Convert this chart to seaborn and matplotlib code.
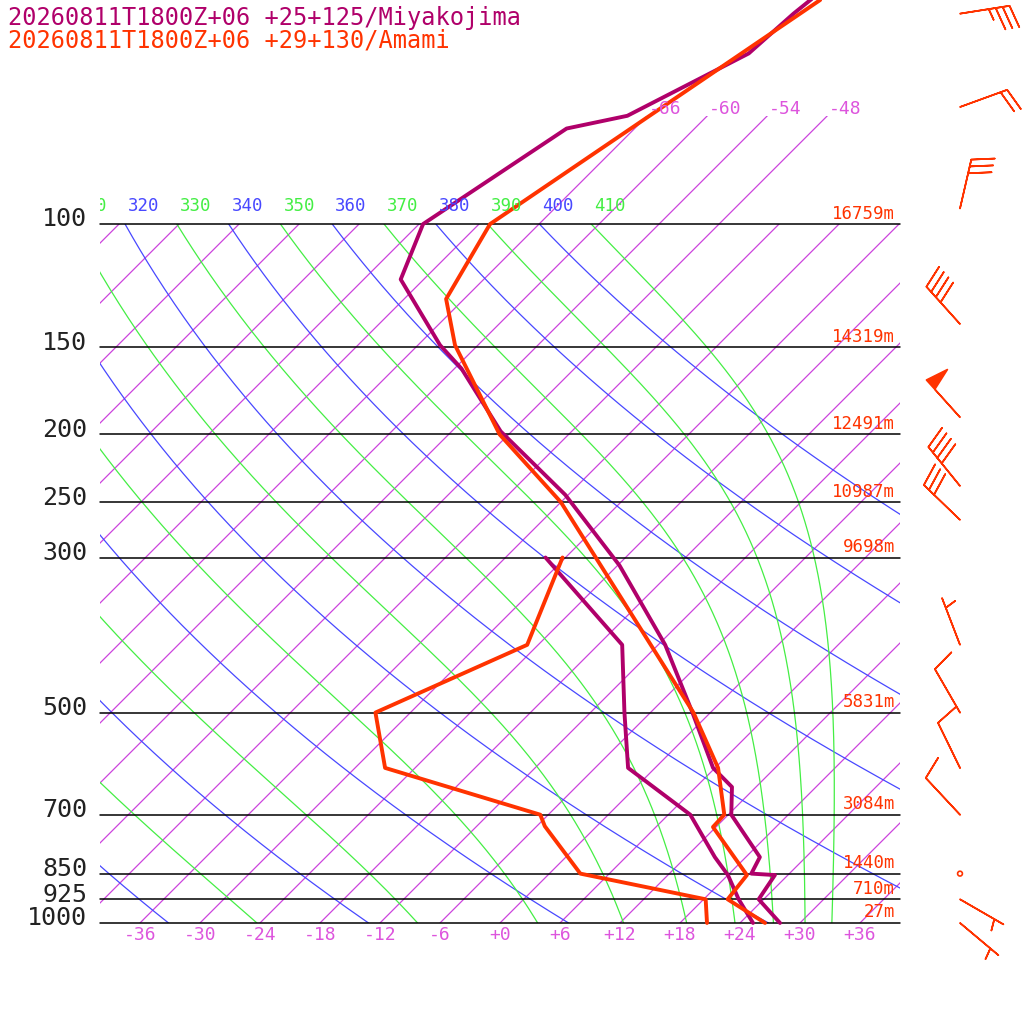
import numpy as np
import pandas as pd
import matplotlib
matplotlib.use("Agg")
import matplotlib.pyplot as plt
import seaborn as sns
from matplotlib.patches import Rectangle

sns.set_theme(style="white")
plt.rcParams['font.family'] = ['DejaVu Sans Mono', 'DejaVu Sans']

SKEW = 30.36  # degC per ln(1000/p)

# ---- sounding data (p hPa, T degC) ----
miya_t_p = [1000, 925, 854, 850, 805, 700, 639, 600, 500, 400, 308, 244, 198, 161, 149, 120, 100, 73, 70, 57, 50, 46]
miya_t = [28.0, 23.5, 22.7, 20.2, 19.4, 12.3, 9.6, 5.8, -1.8, -11.3, -23.8, -36.3, -49.1, -59.3, -63.8, -74.3, -77.6, -72.8, -68.0, -62.1, -61.6, -61.0]
miya_td_p = [1000, 925, 854, 805, 700, 600, 500, 400, 300]
miya_td = [25.3, 21.5, 18.0, 14.9, 8.2, -2.7, -8.6, -15.6, -32.0]

amami_t_p = [1000, 925, 854, 729, 700, 600, 500, 250, 200, 149, 128, 100, 47.8]
amami_t = [26.5, 20.4, 19.9, 11.7, 11.6, 6.3, -1.7, -36.0, -48.9, -62.3, -67.8, -70.9, -60.3]
amami_td_p = [1000, 925, 850, 727, 700, 600, 500, 400, 300]
amami_td = [20.7, 18.2, 3.1, -5.2, -6.8, -27.0, -33.5, -25.1, -30.3]

levels = [100, 150, 200, 250, 300, 500, 700, 850, 925, 1000]
heights = ["16759m", "14319m", "12491m", "10987m", "9698m", "5831m", "3084m", "1440m", "710m", "27m"]

# wind barbs (p, direction deg, speed kt)
wind_p = [50, 68, 95, 139, 189, 237, 265, 400, 500, 600, 700, 850, 925, 1000]
wind_dir = [81, 70, 13, 318, 318, 321, 314, 339, 330, 334, 317, 0, 120, 130]
wind_spd = [35, 20, 30, 40, 50, 40, 30, 5, 10, 10, 10, 0, 5, 5]

PURPLE = '#b0006a'
ORANGE = '#ff3300'
ISO = '#cc44dd'
BLUE = '#4848ff'
GREEN = '#44ee44'


def skx(t, p):
    return np.asarray(t) + SKEW * np.log(1000.0 / np.asarray(p))


def moist(t0c, p):
    # integrate pseudo-adiabat downward from p[0]
    Rd, cp, Lv, eps = 287.04, 1005.7, 2.501e6, 0.622
    T = t0c + 273.15
    out = [T]
    for i in range(1, len(p)):
        es = 6.112 * np.exp(17.67 * (T - 273.15) / (T - 29.65))
        rs = eps * es / (p[i - 1] - es)
        dTdp = (Rd * T + Lv * rs) / (cp + Lv * Lv * rs * eps / (Rd * T * T)) / p[i - 1]
        T = T + dTdp * (p[i] - p[i - 1])
        out.append(T)
    return np.array(out) - 273.15


fig = plt.figure(figsize=(10.24, 10.24), dpi=100)
ax = fig.add_axes([0, 0, 1, 1])
ax.set_yscale('log')
ax.set_xlim(-50, 52.4)
ax.set_ylim(1395, 47.8)
ax.axis('off')

box = Rectangle((-40, 100), 80, 900, transform=ax.transData, fill=False, lw=0)
ax.add_patch(box)
top = Rectangle((-40, 70), 80, 30, transform=ax.transData, fill=False, lw=0)
ax.add_patch(top)
labbox = Rectangle((-40, 80), 80, 20, transform=ax.transData, fill=False, lw=0)
ax.add_patch(labbox)

pp = np.linspace(1000, 100, 300)
# isotherms
for t in range(-126, 61, 6):
    l, = ax.plot(skx(np.full_like(pp, t), pp), pp, color=ISO, lw=0.9)
    l.set_clip_path(box)
ptop = np.linspace(100, 70, 30)
for t in [-66, -60, -54, -48]:
    l, = ax.plot(skx(np.full_like(ptop, t), ptop), ptop, color=ISO, lw=0.9)
    l.set_clip_path(top)
    ax.text(skx(t, 70) + 0.2, 70.5, f"{t:+d}", color='#dd55dd', fontsize=13, va='bottom', ha='left')
for t in range(-36, 37, 6):
    lab = "+0" if t == 0 else f"{t:+d}"
    ax.text(t, 1042, lab, color='#dd55dd', fontsize=13, ha='center', va='center')

# dry adiabats (blue) and pseudo-adiabats (green)
pdn = np.linspace(100, 1000, 600)
for th in range(200, 411, 10):
    t100 = th * (0.1 ** 0.2857) - 273.15
    if th % 20 == 0:
        tt = (th * (pdn / 1000.0) ** 0.2857) - 273.15
        c = BLUE
    else:
        tt = moist(t100, pdn)
        c = GREEN
    l, = ax.plot(skx(tt, pdn), pdn, color=c, lw=0.9)
    l.set_clip_path(box)
    if th >= 310:
        tx = ax.text(skx(t100, 100) + 0.3, 97, str(th), color=c, fontsize=12.5,
                     ha='left', va='bottom', clip_on=True)
        tx.set_clip_path(labbox)

# pressure lines and labels
for p, h in zip(levels, heights):
    ax.plot([-40, 40], [p, p], color='black', lw=1.1)
    ax.text(-41.3, p * 0.985, str(p), fontsize=18, ha='right', va='center', color='#222222')
    ax.text(39.5, p * 0.995, h, fontsize=12.5, ha='right', va='bottom', color=ORANGE)

# soundings
prof = pd.concat([
    pd.DataFrame({'p': miya_t_p, 'x': skx(miya_t, miya_t_p), 'line': 'miya_t'}),
    pd.DataFrame({'p': miya_td_p, 'x': skx(miya_td, miya_td_p), 'line': 'miya_td'}),
    pd.DataFrame({'p': amami_t_p, 'x': skx(amami_t, amami_t_p), 'line': 'amami_t'}),
    pd.DataFrame({'p': amami_td_p, 'x': skx(amami_td, amami_td_p), 'line': 'amami_td'}),
])
pal = {'miya_t': PURPLE, 'miya_td': PURPLE, 'amami_t': ORANGE, 'amami_td': ORANGE}
sns.lineplot(data=prof, x='x', y='p', hue='line', palette=pal, sort=False,
             estimator=None, lw=2.8, legend=False, ax=ax)
ax.set_xlim(-50, 52.4)
ax.set_ylim(1395, 47.8)

# wind barbs (calm drawn as small circle)
wp = np.array(wind_p, dtype=float)
wd = np.radians(wind_dir)
ws = np.array(wind_spd, dtype=float)
u = -ws * np.sin(wd)
v = -ws * np.cos(wd)
m = ws > 0
ax.barbs(np.full(m.sum(), 46.0), wp[m], u[m], v[m], color=ORANGE, length=8.5, linewidth=1.2,
         sizes=dict(spacing=0.14, height=0.45), barb_increments=dict(half=5, full=10, flag=50))
ax.scatter(np.full((~m).sum(), 46.0), wp[~m], s=12, facecolors='none', edgecolors=ORANGE, linewidths=1.2)

fig.text(8 / 1024, 1 - 18 / 1024, "20260811T1800Z+06 +25+125/Miyakojima", color=PURPLE, fontsize=17, va='center')
fig.text(8 / 1024, 1 - 41 / 1024, "20260811T1800Z+06 +29+130/Amami", color=ORANGE, fontsize=17, va='center')

fig.savefig("out.png", dpi=100, facecolor='white')
